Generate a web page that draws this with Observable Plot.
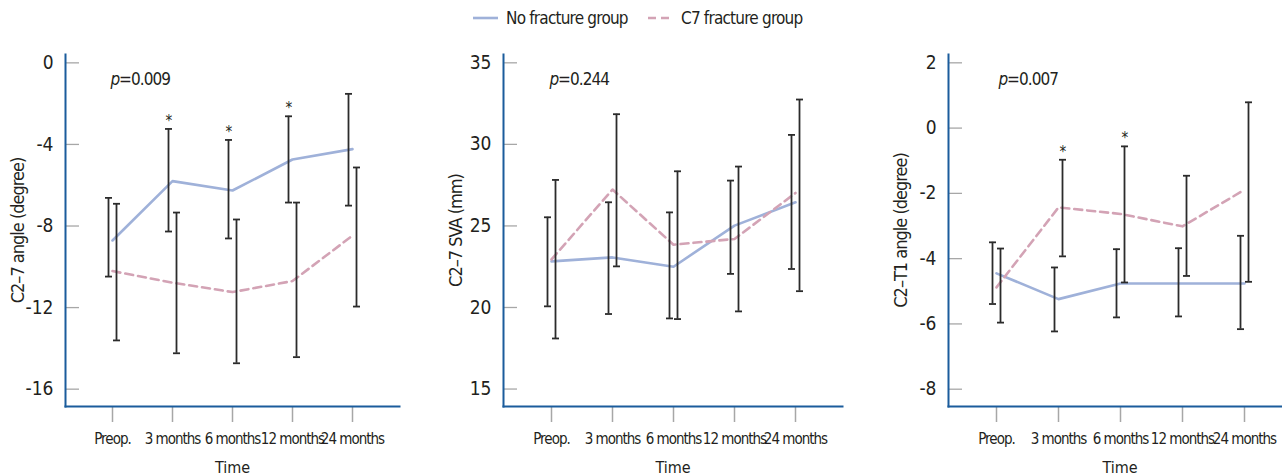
<!DOCTYPE html>
<html>
<head>
<meta charset="utf-8">
<script src="https://cdn.jsdelivr.net/npm/d3@7"></script>
<script src="https://cdn.jsdelivr.net/npm/@observablehq/plot@0.6"></script>
<style>
  body { margin: 0; background: #fff; }
  #wrap { position: relative; width: 1282px; height: 475px; overflow: hidden; background: #fff;
          font-family: "Liberation Sans Narrow", "DejaVu Sans Condensed", "DejaVu Sans", sans-serif; font-stretch: condensed; color: #231f20; }
  #legend { position: absolute; top: 0; left: 0; width: 1282px; height: 36px; }
  .lg-item { position: absolute; top: 6px; display: flex; align-items: center; font-size: 17px; letter-spacing: -0.8px; line-height: 24px; white-space: nowrap; }
  .lg-item svg { margin-right: 8px; }
</style>
</head>
<body>
<div id="wrap">
  <div id="legend"></div>
</div>
<script>
// ---------- data ----------
const timepoints = ["Preop.", "3 months", "6 months", "12 months", "24 months"];
const groupNames = ["No fracture group", "C7 fracture group"];

// C2–7 angle (degree)
const c27NoMean = [-8.71, -5.80, -6.26, -4.74, -4.23];
const c27NoLo   = [-10.48, -8.27, -8.61, -6.85, -7.00];
const c27NoHi   = [-6.62, -3.24, -3.78, -2.62, -1.52];
const c27FxMean = [-10.21, -10.78, -11.24, -10.70, -8.47];
const c27FxLo   = [-13.61, -14.24, -14.73, -14.43, -11.95];
const c27FxHi   = [-6.91, -7.34, -7.68, -6.85, -5.13];
const c27Stars  = ["3 months", "6 months", "12 months"];   // on no-fracture bars
const c27Ticks  = [0, -4, -8, -12, -16];

// C2–7 SVA (mm)
const svaNoMean = [22.83, 23.07, 22.50, 25.02, 26.45];
const svaNoLo   = [20.07, 19.60, 19.33, 22.06, 22.36];
const svaNoHi   = [25.53, 26.45, 25.83, 27.78, 30.58];
const svaFxMean = [22.95, 27.23, 23.85, 24.20, 27.02];
const svaFxLo   = [18.10, 22.52, 19.29, 19.76, 21.00];
const svaFxHi   = [27.82, 31.85, 28.35, 28.64, 32.75];
const svaStars  = [];
const svaTicks  = [35, 30, 25, 20, 15];

// C2–T1 angle (degree)
const t1NoMean = [-4.45, -5.24, -4.76, -4.76, -4.76];
const t1NoLo   = [-5.39, -6.23, -5.80, -5.77, -6.16];
const t1NoHi   = [-3.50, -4.27, -3.71, -3.68, -3.30];
const t1FxMean = [-4.88, -2.43, -2.63, -3.01, -1.89];
const t1FxLo   = [-5.96, -3.93, -4.73, -4.53, -4.71];
const t1FxHi   = [-3.69, -0.97, -0.56, -1.46, 0.79];
const t1Stars  = ["3 months", "6 months"];   // on fracture bars
const t1Ticks  = [2, 0, -2, -4, -6, -8];

const pValues = ["=0.009", "=0.244", "=0.007"];
const yLabels = ["C2\u20137 angle (degree)", "C2\u20137 SVA (mm)", "C2\u2013T1 angle (degree)"];
const xLabel = "Time";

// ---------- style ----------
const blue = "#9fb1d9";
const pink = "#d3a3b5";
const axisBlue = "#1b5c9c";
const barColor = "#2b2b2b";
const tickGray = "#a7a7a7";
const fontStack = '"Liberation Sans Narrow", "DejaVu Sans Condensed", "DejaVu Sans", sans-serif';

// horizontal-line symbol for error-bar caps
const capSymbol = {
  draw(ctx, size) {
    const w = Math.sqrt(size / Math.PI);
    ctx.moveTo(-w, 0);
    ctx.lineTo(w, 0);
  }
};

function rows(mean, lo, hi, group) {
  return timepoints.map((t, i) => ({t, mean: mean[i], lo: lo[i], hi: hi[i], group}));
}

const panels = [
  { left: 0,   plotW: 334, domain: [-16.85, 0.41], ticks: c27Ticks, yLabel: yLabels[0], p: pValues[0], pdx: 45,
    no: rows(c27NoMean, c27NoLo, c27NoHi, groupNames[0]), fx: rows(c27FxMean, c27FxLo, c27FxHi, groupNames[1]),
    stars: c27Stars, starGroup: 0 },
  { left: 438, plotW: 339, domain: [13.93, 35.51], ticks: svaTicks, yLabel: yLabels[1], p: pValues[1], pdx: 46,
    no: rows(svaNoMean, svaNoLo, svaNoHi, groupNames[0]), fx: rows(svaFxMean, svaFxLo, svaFxHi, groupNames[1]),
    stars: svaStars, starGroup: 0 },
  { left: 883, plotW: 343, domain: [-8.53, 2.255], ticks: t1Ticks, yLabel: yLabels[2], p: pValues[2], pdx: 50,
    no: rows(t1NoMean, t1NoLo, t1NoHi, groupNames[0]), fx: rows(t1FxMean, t1FxLo, t1FxHi, groupNames[1]),
    stars: t1Stars, starGroup: 1 }
];

const mL = 65, mT = 14, H = 435, mB = 69;
const dxNo = -4, dxFx = 4;

function errorMarks(data, dx) {
  return [
    Plot.ruleX(data, {x: "t", y1: "lo", y2: "hi", dx, stroke: barColor, strokeWidth: 1.8}),
    Plot.dot(data, {x: "t", y: "lo", dx, r: 3.5, symbol: capSymbol, fill: "none", stroke: barColor, strokeWidth: 1.8}),
    Plot.dot(data, {x: "t", y: "hi", dx, r: 3.5, symbol: capSymbol, fill: "none", stroke: barColor, strokeWidth: 1.8})
  ];
}

const wrap = document.getElementById("wrap");

panels.forEach(pn => {
  const W = mL + pn.plotW;
  const starRows = (pn.starGroup === 0 ? pn.no : pn.fx).filter(d => pn.stars.includes(d.t));
  const starDx = pn.starGroup === 0 ? dxNo : dxFx;
  const chart = Plot.plot({
    width: W, height: H,
    marginLeft: mL, marginRight: 0, marginTop: mT, marginBottom: mB,
    style: {fontFamily: fontStack, color: "#231f20", background: "transparent", overflow: "visible"},
    x: {type: "point", domain: timepoints, padding: 0.76},
    y: {domain: pn.domain},
    marks: [
      Plot.tickY(pn.ticks, {y: d => d, stroke: tickGray, strokeWidth: 1.3, insetRight: pn.plotW - 14}),
      Plot.axisY({ticks: pn.ticks, tickFormat: d => String(d), tickSize: 0, tickPadding: 12, fontSize: 19,
                  fill: "#231f20", label: null}),
      Plot.axisY({ticks: [], tickSize: 0, fontSize: 18, fill: "#231f20",
                  label: pn.yLabel, labelAnchor: "center", labelOffset: 54, labelArrow: "none"}),
      Plot.axisX({tickSize: 16, tickPadding: 11, stroke: tickGray, strokeWidth: 1.5, fontSize: 15,
                  fill: "#231f20", label: null}),
      Plot.axisX({ticks: [], tickSize: 0, fontSize: 16, fill: "#231f20",
                  label: xLabel, labelAnchor: "center", labelOffset: 66, labelArrow: "none"}),
      Plot.line(pn.no, {x: "t", y: "mean", stroke: blue, strokeWidth: 2.6}),
      Plot.line(pn.fx, {x: "t", y: "mean", stroke: pink, strokeWidth: 2.6, strokeDasharray: "8,5"}),
      ...errorMarks(pn.no, dxNo),
      ...errorMarks(pn.fx, dxFx),
      Plot.text(starRows, {x: "t", y: "hi", dx: starDx, dy: -3, text: () => "*", fontSize: 15, lineAnchor: "bottom", fill: "#231f20"}),
      Plot.text(["p"], {frameAnchor: "top-left", dx: pn.pdx, dy: 25, text: d => d, fontSize: 17, fontStyle: "italic", lineAnchor: "middle", textAnchor: "start", fill: "#231f20"}),
      Plot.text([pn.p], {frameAnchor: "top-left", dx: pn.pdx + 8.5, dy: 25, text: d => d, fontSize: 17, lineAnchor: "middle", textAnchor: "start", fill: "#231f20"}),
      Plot.frame({anchor: "left", stroke: axisBlue, strokeWidth: 2}),
      Plot.frame({anchor: "bottom", stroke: axisBlue, strokeWidth: 2})
    ]
  });
  chart.style.position = "absolute";
  chart.style.left = pn.left + "px";
  chart.style.top = "40px";
  // condensed lettering for tick labels, axis titles and p-values, as in the reference
  d3.select(chart).selectAll("g[aria-label='x-axis tick label'] text").style("letter-spacing", "-1px");
  d3.select(chart).selectAll("g[aria-label='y-axis label'] text").style("letter-spacing", "-1px");
  d3.select(chart).selectAll("g[aria-label='text'] text").style("letter-spacing", "-0.9px");
  wrap.appendChild(chart);
});

// legend
const legend = document.getElementById("legend");
const lgItems = [
  {name: groupNames[0], color: blue, dash: null, left: 473},
  {name: groupNames[1], color: pink, dash: "8,5", left: 648}
];
lgItems.forEach(it => {
  const div = document.createElement("div");
  div.className = "lg-item";
  div.style.left = it.left + "px";
  const s = d3.create("svg").attr("width", 25).attr("height", 6);
  s.append("line").attr("x1", 0).attr("x2", 25).attr("y1", 3).attr("y2", 3)
    .attr("stroke", it.color).attr("stroke-width", 2.6).attr("stroke-dasharray", it.dash);
  div.appendChild(s.node());
  const span = document.createElement("span");
  span.textContent = it.name;
  div.appendChild(span);
  legend.appendChild(div);
});
</script>
</body>
</html>
